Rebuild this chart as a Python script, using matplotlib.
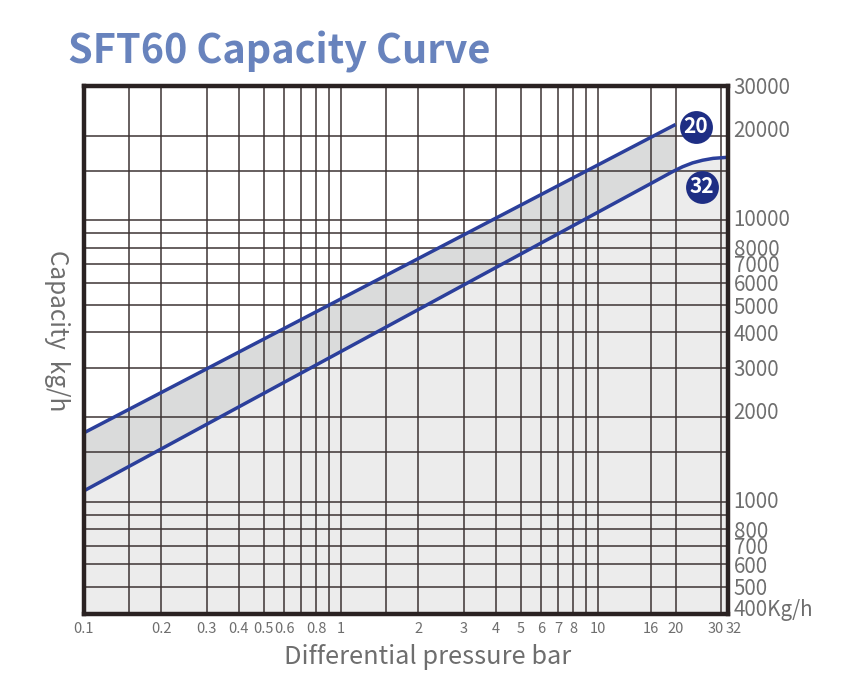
import matplotlib
matplotlib.use("Agg")
import matplotlib.pyplot as plt
from matplotlib.transforms import ScaledTranslation
import numpy as np

plt.rcParams['font.family'] = ['Noto Sans CJK SC', 'DejaVu Sans']

# grid lines of the chart paper
x_grid = [0.15, 0.2, 0.3, 0.4, 0.5, 0.6, 0.7, 0.8, 0.9, 1, 1.5, 2, 3, 4, 5, 6, 7, 8, 9, 10, 16, 20, 30]
y_grid = [500, 600, 700, 800, 900, 1000, 1500, 2000, 3000, 4000, 5000, 6000,
          7000, 8000, 9000, 10000, 15000, 20000]

# tick labels
x_ticks = [0.1, 0.2, 0.3, 0.4, 0.5, 0.6, 0.8, 1, 2, 3, 4, 5, 6, 7, 8, 10, 16, 20, 30, 32]
x_labels = ['0.1', '0.2', '0.3', '0.4', '0.5', '0.6', '0.8', '1', '2', '3', '4', '5',
            '6', '7', '8', '10', '16', '20', '30', '32']
y_ticks = [400, 500, 600, 700, 800, 1000, 2000, 3000, 4000, 5000, 6000, 7000, 8000,
           10000, 20000, 30000]
y_labels = ['400Kg/h', '500', '600', '700', '800', '1000', '2000', '3000', '4000',
            '5000', '6000', '7000', '8000', '10000', '20000', '30000']

# capacity curves (differential pressure bar -> kg/h)
dp_20 = [0.1, 20]
cap_20 = [1760, 21900]
dp_32 = [0.1, 16, 19.5, 21.3, 23.3, 25.5, 28, 32]
cap_32 = [1095, 13500, 14900, 15500, 16000, 16350, 16600, 16750]

BLUE = '#2b3f9b'
NAVY = '#1e2e84'
GRAY_TXT = '#6e6e6e'
FRAME = '#2a2222'


def loglog_interp(x, xp, fp):
    return 10 ** np.interp(np.log10(x), np.log10(xp), np.log10(fp))


def nudge(label, dx, dy):
    # shift a tick label by a few points, the way the original sheet spaces them
    label.set_transform(label.get_transform() + ScaledTranslation(dx / 72, dy / 72, fig.dpi_scale_trans))


fig = plt.figure(figsize=(8.57, 6.88), dpi=100)
ax = fig.add_axes([0.098, 0.1076, 0.7515, 0.7674])
ax.set_xscale('log')
ax.set_yscale('log')
ax.set_xlim(0.1, 32)
ax.set_ylim(400, 30000)

# shaded areas
xs = np.geomspace(dp_32[0], dp_32[-1], 300)
ax.fill_between(xs, 400, loglog_interp(xs, dp_32, cap_32), color='#ececec', lw=0, zorder=0)
xb = np.geomspace(dp_20[0], dp_20[-1], 300)
ax.fill_between(xb, loglog_interp(xb, dp_32, cap_32), loglog_interp(xb, dp_20, cap_20),
                color='#dadbdb', lw=0, zorder=0)

ax.vlines(x_grid, 400, 30000, color='#3d3434', lw=1.1, zorder=1)
ax.hlines(y_grid, 0.1, 32, color='#3d3434', lw=1.1, zorder=1)

ax.plot(dp_20, cap_20, color=BLUE, lw=2.5, solid_capstyle='butt', zorder=3)
ax.plot(dp_32, cap_32, color=BLUE, lw=2.5, solid_capstyle='butt', zorder=3)

# curve badges
for x, y, t in [(24.0, 21500, '20'), (25.3, 13150, '32')]:
    ax.scatter([x], [y], s=560, color=NAVY, zorder=4, clip_on=False, linewidths=0)
    ax.text(x, y, t, color='white', fontsize=15, fontweight='bold',
            ha='center', va='center', zorder=5)

ax.xaxis.set_minor_locator(matplotlib.ticker.NullLocator())
ax.yaxis.set_minor_locator(matplotlib.ticker.NullLocator())
ax.set_xticks(x_ticks)
ax.set_xticklabels(x_labels, fontweight='light')
ax.yaxis.tick_right()
ax.set_yticks(y_ticks)
ax.set_yticklabels(y_labels, fontweight='light')
ax.tick_params(axis='x', length=0, pad=6, labelsize=10.5, labelcolor=GRAY_TXT)
ax.tick_params(axis='y', length=0, pad=4, labelsize=14.8, labelcolor=GRAY_TXT)

xl = ax.get_xticklabels()
nudge(xl[x_labels.index('30')], -4, 0)
nudge(xl[x_labels.index('32')], 4, 0)
yl = ax.get_yticklabels()
nudge(yl[y_labels.index('400Kg/h')], 0, 5)
nudge(yl[y_labels.index('2000')], 0, 5)
nudge(yl[y_labels.index('20000')], 0, 5)
nudge(yl[y_labels.index('1000')], 0, 2)
nudge(yl[y_labels.index('10000')], 0, 2)

for sp in ax.spines.values():
    sp.set_color(FRAME)
    sp.set_linewidth(3.2)
    sp.set_zorder(6)

fig.text(0.0793, 0.9084, 'SFT60 Capacity Curve', fontsize=28.5, fontweight='bold',
         color='#6883bd', ha='left', va='baseline')
fig.text(0.0665, 0.52, 'Capacity  kg/h', fontsize=17.5, color=GRAY_TXT,
         fontweight='light', rotation=270, ha='center', va='center')
fig.text(0.4994, 0.0355, 'Differential pressure bar', fontsize=18.3, color=GRAY_TXT,
         fontweight='light', ha='center', va='baseline')

fig.savefig('out.png', dpi=100)
